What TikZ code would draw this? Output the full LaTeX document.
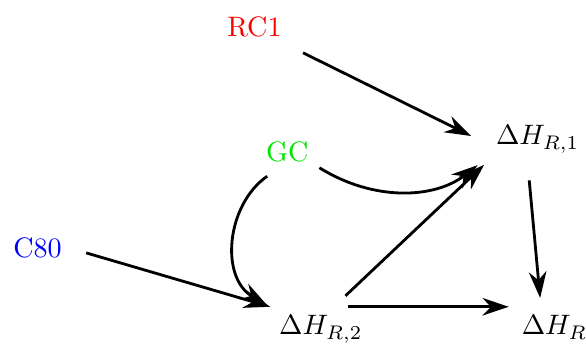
\documentclass[tikz,border=0pt]{standalone}
\usepackage{amsmath,amssymb}
\usepackage{xcolor}
\usepackage{tikz}
\usetikzlibrary{positioning,arrows.meta,calc}
\definecolor{rcred}{RGB}{255,0,0}
\definecolor{gcgreen}{RGB}{0,230,0}
\definecolor{cblue}{RGB}{0,0,255}
\tikzset{
  lbl/.style={anchor=base, inner sep=3pt, font=\normalsize},
  arr/.style={-{Stealth[length=3.3mm,width=2.2mm]}, line width=1pt, draw=black},
}
\begin{document}
\begin{tikzpicture}
    \useasboundingbox (0,0) rectangle (7.325,4.3375);
    % sources
    \node[lbl, text=rcred] (rc1) at (3.18,3.875) {RC1};
    \node[lbl, text=gcgreen] (gc) at (3.59,2.3125) {GC};
    \node[lbl, text=cblue] (c80) at (0.47,1.1125) {C80};
    % enthalpies
    \node[lbl] (dhr1) at (6.72,2.525) {$\Delta H_{R,1}$};
    \node[lbl] (dhr2) at (4.01,0.15) {$\Delta H_{R,2}$};
    \node[lbl] (dhr) at (6.93,0.15) {$\Delta H_{R}$};
    % connectors
    \draw[arr, shorten <=1.75mm, shorten >=2.2mm] (rc1.south east) -- (dhr1.185);
    \draw[arr, shorten <=0.3mm, shorten >=1.5mm] (gc.-25) to[out=-32,in=218] (dhr1.200);
    \draw[arr, shorten <=1mm, shorten >=0.5mm] (gc.235) to[out=215,in=150,looseness=1.1] (dhr2.north west);
    \draw[arr, shorten <=2mm] (c80.east) -- (dhr2.north west);
    \draw[arr, shorten <=2mm, shorten >=0.5mm] (dhr2.60) -- (dhr1.south west);
    \draw[arr, shorten >=0.5mm] (dhr2.40) -- (dhr.north west);
    \draw[arr, shorten <=2.3mm, shorten >=1.1mm] (dhr1.246) -- (dhr.123);
  \end{tikzpicture}
\end{document}
